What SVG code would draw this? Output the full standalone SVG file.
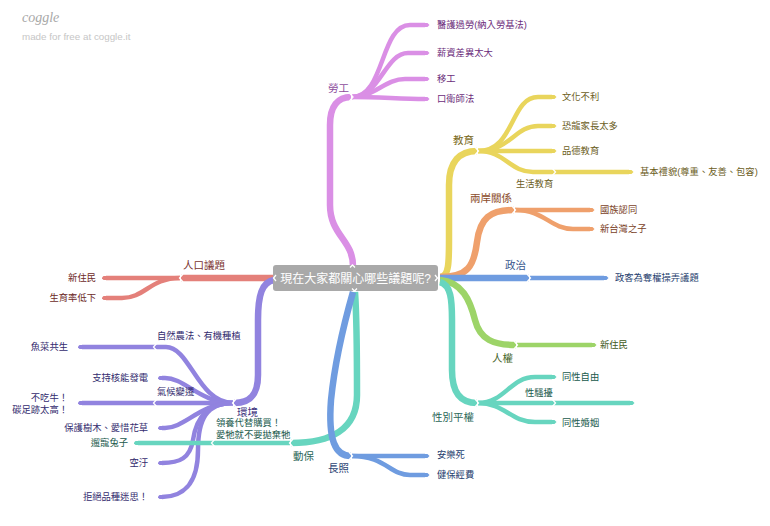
<svg xmlns="http://www.w3.org/2000/svg" width="770" height="526" viewBox="0 0 770 526">
<defs>
<style>
text{font-family:"Liberation Sans","Noto Sans CJK TC",sans-serif;}
.lf{font-size:9.3px;}
.lb{font-size:10.5px;}
.m{fill:none;stroke-width:6.5;stroke-linecap:butt;}
.s{fill:none;stroke-width:4.5;stroke-linecap:butt;}
.ch{fill:none;stroke:#fff;stroke-width:1.3;}
.pur{stroke:#da8fe5;} .yel{stroke:#e9d55c;} .ora{stroke:#efa06c;} .blu{stroke:#6f9ce0;}
.grn{stroke:#9dd468;} .tea{stroke:#67d5bf;} .red{stroke:#e4807a;} .env{stroke:#9183df;}
.tpur{fill:#6b2c7b;} .tyel{fill:#6b5d1c;} .tora{fill:#7a3f1f;} .tblu{fill:#26406e;}
.tgrn{fill:#3f5b22;} .ttea{fill:#205a4c;} .tred{fill:#6d2a27;} .tenv{fill:#332b6e;}
</style>
<marker id="kpur" viewBox="0 0 2 2" refX="0" refY="1" markerWidth="1" markerHeight="1" orient="auto" markerUnits="strokeWidth"><path d="M0,0L1,0L2,1L1,2L0,2z" fill="#da8fe5"/></marker>
<marker id="kyel" viewBox="0 0 2 2" refX="0" refY="1" markerWidth="1" markerHeight="1" orient="auto" markerUnits="strokeWidth"><path d="M0,0L1,0L2,1L1,2L0,2z" fill="#e9d55c"/></marker>
<marker id="kora" viewBox="0 0 2 2" refX="0" refY="1" markerWidth="1" markerHeight="1" orient="auto" markerUnits="strokeWidth"><path d="M0,0L1,0L2,1L1,2L0,2z" fill="#efa06c"/></marker>
<marker id="kblu" viewBox="0 0 2 2" refX="0" refY="1" markerWidth="1" markerHeight="1" orient="auto" markerUnits="strokeWidth"><path d="M0,0L1,0L2,1L1,2L0,2z" fill="#6f9ce0"/></marker>
<marker id="kgrn" viewBox="0 0 2 2" refX="0" refY="1" markerWidth="1" markerHeight="1" orient="auto" markerUnits="strokeWidth"><path d="M0,0L1,0L2,1L1,2L0,2z" fill="#9dd468"/></marker>
<marker id="ktea" viewBox="0 0 2 2" refX="0" refY="1" markerWidth="1" markerHeight="1" orient="auto" markerUnits="strokeWidth"><path d="M0,0L1,0L2,1L1,2L0,2z" fill="#67d5bf"/></marker>
<marker id="kred" viewBox="0 0 2 2" refX="0" refY="1" markerWidth="1" markerHeight="1" orient="auto" markerUnits="strokeWidth"><path d="M0,0L1,0L2,1L1,2L0,2z" fill="#e4807a"/></marker>
<marker id="kenv" viewBox="0 0 2 2" refX="0" refY="1" markerWidth="1" markerHeight="1" orient="auto" markerUnits="strokeWidth"><path d="M0,0L1,0L2,1L1,2L0,2z" fill="#9183df"/></marker>
</defs>
<rect width="770" height="526" fill="#fff"/>
<g id="logo">
<text x="22" y="22" font-style="italic" font-size="14" fill="#a8a8a8" style="font-family:'Liberation Serif',serif">coggle</text>
<text x="22" y="40" font-size="9.8" fill="#c6c6c6">made for free at coggle.it</text>
</g>
<g id="connectors">
<!-- 勞工 -->
<path class="m pur" d="M353,266 C353,240 330,235 330,205 L330,125 C330,106 338,97 351,97"/>
<path class="s pur" marker-end="url(#kpur)" d="M352,97 C385,97 380,25 410,25 L425,25"/>
<path class="s pur" marker-end="url(#kpur)" d="M352,97 C380,97 385,53 408,53 L425,53"/>
<path class="s pur" marker-end="url(#kpur)" d="M352,97 C375,97 385,79 405,79 L425,79"/>
<path class="s pur" marker-end="url(#kpur)" d="M352,97 C380,97 400,99 425,99"/>
<polyline class="ch" points="349.5,93 353,97 349.5,101"/>
<!-- 教育 -->
<path class="m yel" d="M440,277 C449,277 449,262 449,240 L449,185 C449,161 460,151 477,151"/>
<path class="s yel" marker-end="url(#kyel)" d="M478,151 C515,151 510,97 538,97 L552,97"/>
<path class="s yel" marker-end="url(#kyel)" d="M478,151 C510,151 515,126 538,126 L552,126"/>
<path class="s yel" marker-end="url(#kyel)" d="M478,151 L552,151"/>
<path class="s yel" d="M478,151 C505,151 510,172 533,172 L555,172"/>
<path class="s yel" marker-end="url(#kyel)" d="M555,172 L629,172"/>
<polyline class="ch" points="475,147 478.5,151 475,155"/>
<polyline class="ch" points="552,168 555.5,172 552,176"/>
<!-- 兩岸關係 -->
<path class="m ora" d="M440,277 C468,277 474,266 477,242 C480,218 490,210 514,210"/>
<path class="s ora" marker-end="url(#kora)" d="M515,210 L590,210"/>
<path class="s ora" marker-end="url(#kora)" d="M515,210 C545,210 550,229 573,229 L590,229"/>
<polyline class="ch" points="512,206 515.5,210 512,214"/>
<!-- 政治 -->
<path class="m blu" d="M440,278 L529,278"/>
<path class="s blu" marker-end="url(#kblu)" d="M530,278 L604,278"/>
<polyline class="ch" points="527,274 530.5,278 527,282"/>
<!-- 人權 -->
<path class="m grn" d="M440,280 C462,282 470,300 475,320 C480,340 494,345 516,345"/>
<path class="s grn" marker-end="url(#kgrn)" d="M517,345 L592,345"/>
<polyline class="ch" points="514,341 517.5,345 514,349"/>
<!-- 性別平權 -->
<path class="m tea" d="M440,282 C451,285 452,300 452,320 L452,370 C452,392 460,403 477,403"/>
<path class="s tea" marker-end="url(#ktea)" d="M478,403 C505,403 510,377 535,377 L552,377"/>
<path class="s tea" d="M478,403 L555,403"/>
<path class="s tea" marker-end="url(#ktea)" d="M555,403 L630,403"/>
<path class="s tea" marker-end="url(#ktea)" d="M478,403 C505,403 510,422 535,422 L552,422"/>
<polyline class="ch" points="475,399 478.5,403 475,407"/>
<polyline class="ch" points="552,399 555.5,403 552,407"/>
<!-- 人口議題 -->
<path class="m red" d="M274,278 L181,278"/>
<path class="s red" marker-end="url(#kred)" d="M180,278 L106,278"/>
<path class="s red" marker-end="url(#kred)" d="M180,278 C150,278 145,298 122,298 L106,298"/>
<polyline class="ch" points="183,274 179.5,278 183,282"/>
<!-- 環境 -->
<path class="m env" d="M274,280 C262,282 258,295 258,320 L258,375 C258,395 250,403 234,403"/>
<path class="s env" d="M233,403 C198,403 190,347 166,347 L154,347"/>
<path class="s env" marker-end="url(#kenv)" d="M154,347 L82,347"/>
<path class="s env" marker-end="url(#kenv)" d="M233,403 C200,403 185,378 165,378 L162,378"/>
<path class="s env" d="M233,403 L154,403"/>
<path class="s env" marker-end="url(#kenv)" d="M154,403 L82,403"/>
<path class="s env" marker-end="url(#kenv)" d="M233,403 C200,403 185,428 165,428 L162,428"/>
<path class="s env" marker-end="url(#kenv)" d="M233,403 C205,403 196,420 193,440 C190,458 180,463 162,463"/>
<path class="s env" marker-end="url(#kenv)" d="M233,403 C206,403 198,420 198,450 C198,485 182,497 162,497"/>
<polyline class="ch" points="236,399 232.5,403 236,407"/>
<polyline class="ch" points="157,343 153.5,347 157,351"/>
<polyline class="ch" points="157,399 153.5,403 157,407"/>
<!-- 動保 -->
<path class="m tea" d="M355,292 C357,320 357,350 357,395 C357,430 330,443 291,443"/>
<path class="s tea" d="M290,443 L212,443"/>
<path class="s tea" marker-end="url(#ktea)" d="M212,443 L138,443"/>
<polyline class="ch" points="293,439 289.5,443 293,447"/>
<polyline class="ch" points="215,439 211.5,443 215,447"/>
<!-- 長照 -->
<path class="m blu" d="M353,292 C345,320 335,360 331,400 C328,440 335,456 351,456"/>
<path class="s blu" marker-end="url(#kblu)" d="M352,456 L425,456"/>
<path class="s blu" marker-end="url(#kblu)" d="M352,456 C385,456 390,475 410,475 L425,475"/>
<polyline class="ch" points="349,452 352.5,456 349,460"/>
</g>
<g id="n-center">
<rect x="273" y="265" width="165" height="26" rx="3" fill="#a9a9a9"/>
<polyline class="ch" points="276,275 273.5,278 276,281"/>
<polyline class="ch" points="435,275 437.5,278 435,281"/>
<polyline class="ch" points="350,267.5 352.5,265 355,267.5"/>
<polyline class="ch" points="352,288.5 354.5,291 357,288.5"/>
<text x="355.5" y="282.5" text-anchor="middle" font-size="12" fill="#fff">現在大家都關心哪些議題呢?</text>
</g>
<g id="n-labor">
<text class="lb" x="328" y="92" fill="#8d4d9c">勞工</text>
<text class="lf tpur" x="437" y="28">醫護過勞(納入勞基法)</text>
<text class="lf tpur" x="437" y="56">薪資差異太大</text>
<text class="lf tpur" x="437" y="82">移工</text>
<text class="lf tpur" x="437" y="102">口衛師法</text>
</g>
<g id="n-edu">
<text class="lb" x="453" y="144" fill="#7a6a22">教育</text>
<text class="lf tyel" x="562" y="100">文化不利</text>
<text class="lf tyel" x="562" y="129">恐龍家長太多</text>
<text class="lf tyel" x="562" y="154">品德教育</text>
<text class="lf tyel" x="516" y="187">生活教育</text>
<text class="lf tyel" x="640" y="175" font-size="8.8">基本禮貌(尊重、友善、包容)</text>
</g>
<g id="n-cross">
<text class="lb" x="470" y="202" fill="#8a4a28">兩岸關係</text>
<text class="lf tora" x="600" y="213">國族認同</text>
<text class="lf tora" x="600" y="232">新台灣之子</text>
</g>
<g id="n-politics">
<text class="lb" x="505" y="269" fill="#35568c">政治</text>
<text class="lf tblu" x="615" y="281">政客為奪權操弄議題</text>
</g>
<g id="n-rights">
<text class="lb" x="492" y="362" fill="#46652a">人權</text>
<text class="lf tgrn" x="600" y="348">新住民</text>
</g>
<g id="n-gender">
<text class="lb" x="432" y="421" fill="#2a6657">性別平權</text>
<text class="lf ttea" x="562" y="380">同性自由</text>
<text class="lf ttea" x="525" y="396">性騷擾</text>
<text class="lf ttea" x="562" y="426">同性婚姻</text>
</g>
<g id="n-pop">
<text class="lb" x="183" y="269" fill="#7a3330">人口議題</text>
<text class="lf tred" x="96" y="281" text-anchor="end">新住民</text>
<text class="lf tred" x="96" y="301" text-anchor="end">生育率低下</text>
</g>
<g id="n-env">
<text class="lb" x="237" y="416" fill="#3f3580">環境</text>
<text class="lf tenv" x="157" y="339">自然農法、有機種植</text>
<text class="lf tenv" x="68" y="350" text-anchor="end">魚菜共生</text>
<text class="lf tenv" x="148" y="381" text-anchor="end">支持核能發電</text>
<text class="lf tenv" x="157" y="395">氣候變遷</text>
<text class="lf tenv" x="68" y="401" text-anchor="end">不吃牛！</text>
<text class="lf tenv" x="68" y="413" text-anchor="end">碳足跡太高！</text>
<text class="lf tenv" x="148" y="431" text-anchor="end">保護樹木、愛惜花草</text>
<text class="lf tenv" x="148" y="466" text-anchor="end">空汙</text>
<text class="lf tenv" x="148" y="500" text-anchor="end">拒絕品種迷思！</text>
</g>
<g id="n-animal">
<text class="lb" x="293" y="460" fill="#2a6657">動保</text>
<text class="lf ttea" x="216" y="426">領養代替購買！</text>
<text class="lf ttea" x="216" y="438">愛牠就不要拋棄牠</text>
<text class="lf ttea" x="128" y="446" text-anchor="end">遛寵兔子</text>
</g>
<g id="n-care">
<text class="lb" x="328" y="472" fill="#2c4474">長照</text>
<text class="lf tblu" x="437" y="458">安樂死</text>
<text class="lf tblu" x="437" y="478">健保經費</text>
</g>
</svg>
